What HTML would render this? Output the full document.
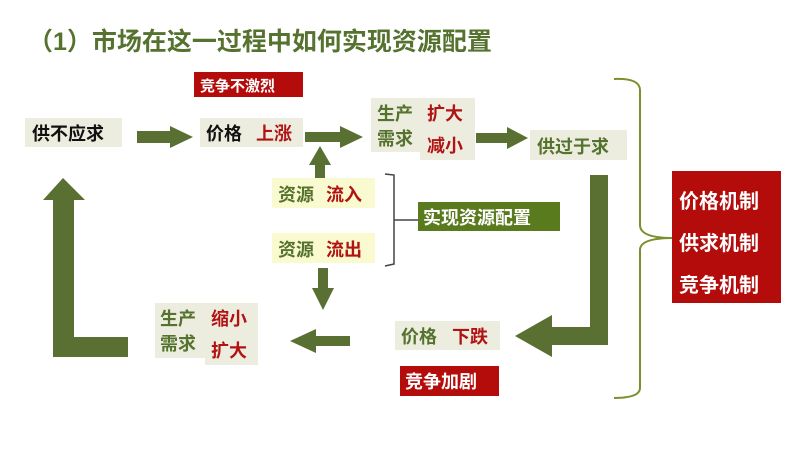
<!DOCTYPE html>
<html><head><meta charset="utf-8"><style>
body{margin:0;background:#fff;width:794px;height:447px;overflow:hidden}
svg text{font-family:"Liberation Sans","Noto Sans CJK SC",sans-serif;font-weight:bold}
</style></head><body>
<svg width="794" height="447" viewBox="0 0 794 447">
<text x="28" y="50" font-size="25" fill="#55722e">（1）市场在这一过程中如何实现资源配置</text>
<g fill="#597032">
<polygon points="137,131 170,131 170,126 193,137 170,148 170,143 137,143"/>
<polygon points="305,132 340,132 340,126 363,137 340,148 340,142 305,142"/>
<polygon points="476,133 507,133 507,127 528,138 507,149 507,143 476,143"/>
<polygon points="315,185 315,165 309,165 320,146 331,165 325,165 325,185"/>
<polygon points="318,268 328,268 328,288 334,288 323,310 312,288 318,288"/>
<polygon points="350,336 316,336 316,329 290,341 316,353 316,346 350,346"/>
<polygon points="590,175 608,175 608,345 552,345 552,357 515,336 552,315 552,327 590,327"/>
<polygon points="53,357 128,357 128,337 74,337 74,200 85,200 63,178 43,200 53,200"/>
</g>
<rect x="25" y="118" width="97" height="29" fill="#ededdf"/>
<text x="32" y="140" font-size="18" fill="#111">供不应求</text>
<rect x="194" y="72" width="109" height="25" fill="#b40b0b"/>
<text x="200" y="91" font-size="15" fill="#fff">竞争不激烈</text>
<rect x="200" y="118" width="103" height="29" fill="#ededdf"/>
<text x="206" y="140" font-size="18" fill="#111">价格</text>
<text x="256" y="140" font-size="18" fill="#b11313">上涨</text>
<rect x="371" y="98" width="104" height="54" fill="#ededdf"/>
<rect x="420" y="128" width="55" height="32" fill="#ededdf"/>
<text x="377" y="120" font-size="18" fill="#55722e">生产</text>
<text x="377" y="145" font-size="18" fill="#55722e">需求</text>
<text x="427" y="120" font-size="18" fill="#b11313">扩大</text>
<text x="427" y="152" font-size="18" fill="#b11313">减小</text>
<rect x="530" y="130" width="97" height="30" fill="#ededdf"/>
<text x="537" y="153" font-size="18" fill="#55722e">供过于求</text>
<rect x="272" y="178" width="103" height="30" fill="#fafad0"/>
<text x="278" y="201" font-size="18" fill="#55722e">资源</text>
<text x="326" y="201" font-size="18" fill="#b11313">流入</text>
<rect x="272" y="233" width="103" height="30" fill="#fafad0"/>
<text x="278" y="256" font-size="18" fill="#55722e">资源</text>
<text x="326" y="256" font-size="18" fill="#b11313">流出</text>
<path d="M385,174 L394,175 L394,264 L385,266 M394,220 L418,220" fill="none" stroke="#444" stroke-width="1.5"/>
<rect x="418" y="202" width="142" height="29" fill="#5a7a1e"/>
<text x="423" y="224" font-size="18" fill="#fff">实现资源配置</text>
<path d="M614,79 Q640,78 640,90 L640,225 Q640,238 673,238 Q640,238 640,250 L640,388 Q640,398 614,398" fill="none" stroke="#7a8f2e" stroke-width="2"/>
<rect x="672" y="171" width="109" height="132" fill="#b40b0b"/>
<text x="679" y="208" font-size="20" fill="#fff">价格机制</text>
<text x="679" y="250" font-size="20" fill="#fff">供求机制</text>
<text x="679" y="292" font-size="20" fill="#fff">竞争机制</text>
<rect x="395" y="321" width="105" height="29" fill="#ededdf"/>
<text x="401" y="343" font-size="18" fill="#55722e">价格</text>
<text x="452" y="343" font-size="18" fill="#b11313">下跌</text>
<rect x="400" y="366" width="99" height="30" fill="#b40b0b"/>
<text x="405" y="388" font-size="18" fill="#fff">竞争加剧</text>
<rect x="155" y="303" width="103" height="55" fill="#ededdf"/>
<rect x="205" y="333" width="53" height="32" fill="#ededdf"/>
<text x="160" y="325" font-size="18" fill="#55722e">生产</text>
<text x="160" y="350" font-size="18" fill="#55722e">需求</text>
<text x="211" y="325" font-size="18" fill="#b11313">缩小</text>
<text x="211" y="357" font-size="18" fill="#b11313">扩大</text>
</svg>
</body></html>
